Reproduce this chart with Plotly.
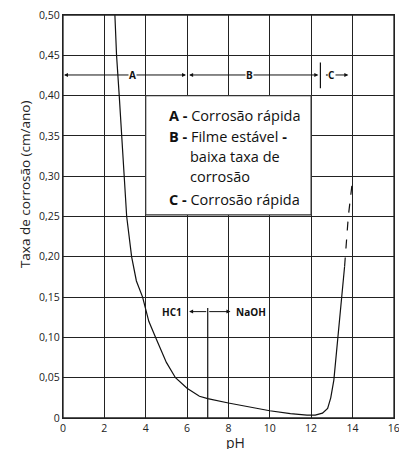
import plotly.graph_objects as go

# Data
ph_solid = [2.51, 2.59, 2.72, 2.83, 2.95, 3.08, 3.32, 3.55, 3.85, 4.15, 4.48, 5.0, 5.44, 6.0, 6.6, 7.0, 8.0, 9.0, 10.0, 11.0, 11.8, 12.2, 12.55, 12.8, 12.95, 13.1, 13.3, 13.5, 13.62]
rate_solid = [0.50, 0.45, 0.40, 0.35, 0.30, 0.25, 0.20, 0.17, 0.15, 0.12, 0.10, 0.069, 0.05, 0.037, 0.027, 0.024, 0.0186, 0.014, 0.009, 0.0055, 0.0035, 0.0035, 0.006, 0.012, 0.025, 0.047, 0.10, 0.15, 0.188]
ph_dash = [13.62, 13.8, 13.98]
rate_dash = [0.188, 0.25, 0.29]

x_ticks = [0, 2, 4, 6, 8, 10, 12, 14, 16]
y_ticks = [0, 0.05, 0.10, 0.15, 0.20, 0.25, 0.30, 0.35, 0.40, 0.45, 0.50]
y_tick_labels = ["0", "0,05", "0,10", "0,15", "0,20", "0,25", "0,30", "0,35", "0,40", "0,45", "0,50"]

legend_lines = ["<b>A -</b> Corrosão rápida", "<b>B -</b> Filme estável <b>-</b>", "baixa taxa de", "corrosão", "<b>C -</b> Corrosão rápida"]
legend_x = [5.05, 5.05, 6.05, 6.05, 5.05]
legend_y = [0.375, 0.349, 0.324, 0.300, 0.2716]

FONT = "Open Sans"

fig = go.Figure()
fig.add_trace(go.Scatter(x=ph_solid, y=rate_solid, mode="lines",
                         line=dict(color="#111", width=1.2), showlegend=False))
fig.add_trace(go.Scatter(x=ph_dash, y=rate_dash, mode="lines",
                         line=dict(color="#111", width=1.2, dash="dash"), showlegend=False))
# NaOH/HCl marker line at pH 7
fig.add_trace(go.Scatter(x=[7, 7], y=[0, 0.1365], mode="lines",
                         line=dict(color="#111", width=1.2), showlegend=False))

# legend box
fig.add_shape(type="rect", x0=4, x1=12, y0=0.252, y1=0.40, xref="x", yref="y",
              fillcolor="white", line=dict(color="#333", width=1.2), layer="between")
# plot frame
fig.add_shape(type="rect", x0=0, x1=1, y0=0, y1=1, xref="paper", yref="paper",
              fillcolor="rgba(0,0,0,0)", line=dict(color="#222", width=1.3), layer="above")

annotations = []
for t, xx, yy in zip(legend_lines, legend_x, legend_y):
    annotations.append(dict(x=xx, y=yy, text=t, showarrow=False, xanchor="left", yanchor="middle",
                            font=dict(family=FONT, size=14.5, color="#111")))

yb = 0.4256
def arrow(x_tip, x_tail, y):
    return dict(x=x_tip, y=y, ax=x_tail, ay=y, xref="x", yref="y", axref="x", ayref="y",
                text="", showarrow=True, arrowhead=2, arrowsize=0.8, arrowwidth=1, arrowcolor="#111")

annotations += [arrow(0.05, 3.35, yb), arrow(5.95, 3.35, yb),
                arrow(6.1, 9.0, yb), arrow(12.35, 9.0, yb),
                arrow(12.7, 13.0, yb), arrow(13.8, 13.0, yb)]
for lab, xx in [("A", 3.35), ("B", 9.0), ("C", 13.0)]:
    annotations.append(dict(x=xx, y=yb, text="<b>%s</b>" % lab, showarrow=False, bgcolor="white",
                            borderpad=0, font=dict(family=FONT, size=10, color="#111")))

# HCl / NaOH arrows
annotations += [arrow(6.1, 7.0, 0.132), arrow(8.1, 7.0, 0.132)]
annotations.append(dict(x=5.85, y=0.132, text="<b>HC1</b>", showarrow=False, xanchor="right",
                        font=dict(family=FONT, size=10, color="#111")))
annotations.append(dict(x=8.25, y=0.132, text="<b>NaOH</b>", showarrow=False, xanchor="left",
                        font=dict(family=FONT, size=10, color="#111")))

# axis titles placed like the reference
annotations.append(dict(x=0, y=0.578, xref="paper", yref="paper", xshift=-49, text="Taxa de corrosão (cm/ano)",
                        textangle=-90, showarrow=False, font=dict(family=FONT, size=13.5, color="#222")))
annotations.append(dict(x=0.52, y=0, xref="paper", yref="paper", yshift=-24, text="pH",
                        yanchor="middle", showarrow=False, font=dict(family=FONT, size=14, color="#222")))

fig.update_layout(annotations=annotations)
# vertical tick separator B/C
fig.add_shape(type="line", x0=12.45, x1=12.45, y0=0.409, y1=0.441, xref="x", yref="y",
              line=dict(color="#111", width=1.2))

fig.update_xaxes(range=[0, 16.01], tickvals=x_ticks, ticktext=[str(v) for v in x_ticks],
                 showgrid=True, gridcolor="#222", gridwidth=1.3, zeroline=False,
                 showline=True, linecolor="#222", linewidth=1.3, mirror=True, automargin=False,
                 ticks="", tickfont=dict(family=FONT, size=10.5, color="#222"), ticklabeloverflow="allow")
fig.update_yaxes(range=[0, 0.50], tickvals=y_ticks, ticktext=y_tick_labels,
                 showgrid=True, gridcolor="#222", gridwidth=1.3, zeroline=False,
                 showline=True, linecolor="#222", linewidth=1.3, mirror=True, automargin=False,
                 ticks="", tickfont=dict(family=FONT, size=10.5, color="#222"))

fig.update_layout(width=399, height=449, margin=dict(l=63, r=5, t=15, b=31),
                  plot_bgcolor="white", paper_bgcolor="white", showlegend=False)

fig.write_html("out.html", config={"displayModeBar": False},
               post_script="document.body.style.margin='0';document.body.style.overflow='hidden';")
